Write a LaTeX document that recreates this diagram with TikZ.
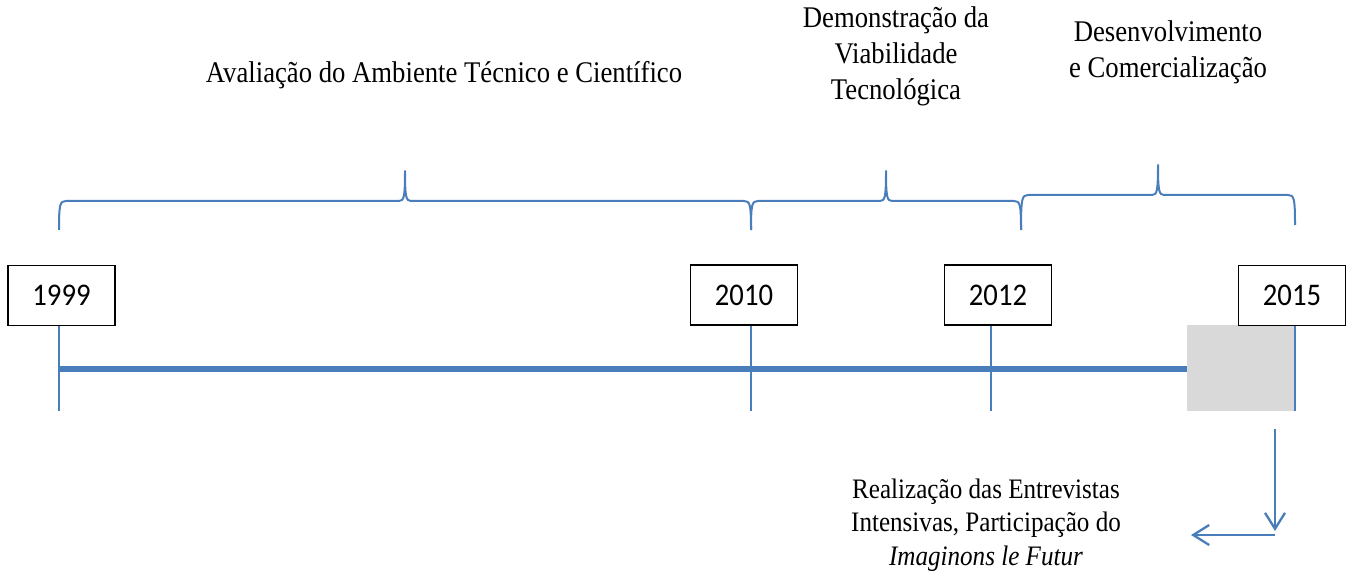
\documentclass[tikz,border=0pt]{standalone}
\usepackage{fontspec}
\setmainfont[FakeStretch=0.89]{Liberation Serif}
\newfontfamily\yearfont[FakeStretch=0.91]{Carlito}
\usetikzlibrary{arrows.meta}
\definecolor{tlblue}{HTML}{4A7EBB}
\definecolor{tlgray}{HTML}{D9D9D9}
% curly brace over a phase: x left, x tip, x right, y left end, y right end, y bar, y tip
\newcommand\phasebrace[7]{%
  \draw[brc] (#1,#4) .. controls (#1,#6+3) and (#1+1,#6) .. (#1+7,#6)
    -- (#2-6,#6) .. controls (#2-1,#6) and (#2,#6-4) .. (#2,#7)
    .. controls (#2,#6-4) and (#2+1,#6) .. (#2+6,#6)
    -- (#3-7,#6) .. controls (#3-1,#6) and (#3,#6+3) .. (#3,#5);}
\begin{document}
\begin{tikzpicture}[x=1pt,y=-1pt,
  year/.style={draw=black, line width=1.2pt, fill=white, minimum width=107pt,
    minimum height=60pt, inner sep=0pt, font=\yearfont\fontsize{31.5}{36}\selectfont},
  phase/.style={align=center, inner sep=0pt, font=\fontsize{30}{36}\selectfont},
  tick/.style={tlblue, line width=2pt},
  axis/.style={tlblue, line width=5.5pt},
  brc/.style={tlblue, line width=2pt, line join=round},
  flow/.style={tlblue, line width=2.3pt, -{Straight Barb[length=16pt,width=20pt]}},
]
\useasboundingbox (0,0) rectangle (1346,572);

% tick positions on the axis
\coordinate (t1999) at (59,369);
\coordinate (t2010) at (751,369);
\coordinate (t2012) at (991,369);
\coordinate (t2015) at (1295,369);

% shaded final stretch
\node[fill=tlgray, minimum width=107pt, minimum height=86pt, inner sep=0pt] (pending) at (1240.5,367.5) {};

% year labels
\node[year] (y1999) at (61.5,295.5) {1999};
\node[year] (y2010) at (744,295) {2010};
\node[year] (y2012) at (998,295) {2012};
\node[year] (y2015) at (1292,295.3) {2015};

% axis and ticks
\draw[axis] (t1999) -- (t1999 -| pending.west);
\draw[tick] (y1999.south -| t1999) -- (t1999 |- pending.south);
\draw[tick] (y2010.south -| t2010) -- (t2010 |- pending.south);
\draw[tick] (y2012.south -| t2012) -- (t2012 |- pending.south);
\draw[tick] (y2015.south -| t2015) -- (t2015 |- pending.south);

% phase braces
\phasebrace{59}{405}{751}{230}{230}{201}{171}
\phasebrace{751}{886}{1021}{230}{230}{201}{171}
\phasebrace{1021}{1158}{1295}{230}{225}{195}{165}

% phase titles (base anchor sits on the last line)
\node[phase, anchor=base] (p1) at (444,83) {Avaliação do Ambiente Técnico e Científico};
\node[phase, anchor=base] (p2) at (896,100) {Demonstração da\\Viabilidade\\Tecnológica};
\node[phase, anchor=base] (p3) at (1168,78) {Desenvolvimento\\e Comercialização};

% final step note
\node[phase, anchor=base, font=\fontsize{28.2}{33.3}\selectfont] (note) at (986,565)
  {Realização das Entrevistas\\Intensivas, Participação do\\\textit{Imaginons le Futur}};

\coordinate (a0) at (1275,429);
\coordinate (a1) at (1275,531);
\coordinate (b0) at (1275,535);
\coordinate (b1) at (1191,535);
\draw[flow] (a0) -- (a1);
\draw[flow] (b0) -- (b1);
\end{tikzpicture}
\end{document}
